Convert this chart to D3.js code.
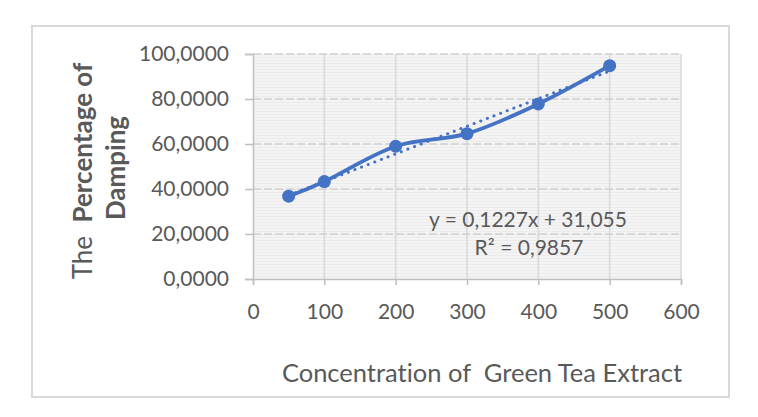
<!DOCTYPE html>
<html>
<head>
<meta charset="utf-8">
<script src="https://cdn.jsdelivr.net/npm/d3@7"></script>
<style>
  body { margin: 0; background: #fff; }
  text { font-family: Lato, "Open Sans", sans-serif; fill: #595959; font-variant-ligatures: none; }
</style>
</head>
<body>
<div id="chart"></div>
<script>
// data
var concentration = [50, 100, 200, 300, 400, 500];
var damping = [36.8, 43.3, 59.0, 64.6, 77.8, 94.8];
var xTicks = [0, 100, 200, 300, 400, 500, 600];
var yTicks = [0, 20, 40, 60, 80, 100];
var slope = 0.1227, intercept = 31.055;
var eqLabel = "y = 0,1227x + 31,055";
var r2Label = "R² = 0,9857";

var width = 758, height = 417;
var blue = "#4472C4";

var svg = d3.select('#chart')
  .append('svg')
  .attr('width', width)
  .attr('height', height)

// outer chart border
svg.append('rect')
  .attr('x', 32).attr('y', 26)
  .attr('width', 697).attr('height', 371)
  .attr('fill', '#fff')
  .attr('stroke', '#d9d9d9')
  .attr('stroke-width', 2)

var x = d3.scaleLinear().domain([0, 600]).range([253, 681]);
var y = d3.scaleLinear().domain([0, 100]).range([279, 54]);

// striped light background pattern
var defs = svg.append('defs');
var pat = defs.append('pattern')
  .attr('id', 'stripes')
  .attr('patternUnits', 'userSpaceOnUse')
  .attr('width', 4).attr('height', 3)
pat.append('rect').attr('width', 4).attr('height', 3).attr('fill', '#f4f4f4')
pat.append('rect').attr('width', 4).attr('height', 1).attr('fill', '#ebebeb')

svg.append('rect')
  .attr('x', x(0)).attr('y', y(100))
  .attr('width', x(600) - x(0)).attr('height', y(0) - y(100))
  .attr('fill', 'url(#stripes)')

// vertical gridlines
svg.append('g').selectAll('line')
  .data(xTicks.slice(1))
  .join('line')
  .attr('x1', d => x(d)).attr('x2', d => x(d))
  .attr('y1', y(100)).attr('y2', y(0))
  .attr('stroke', '#d9d9d9')
  .attr('stroke-width', 1.5)

// horizontal dashed gridlines
svg.append('g').selectAll('line')
  .data(yTicks.slice(1))
  .join('line')
  .attr('x1', x(0)).attr('x2', x(600))
  .attr('y1', d => y(d)).attr('y2', d => y(d))
  .attr('stroke', '#d0d0d0')
  .attr('stroke-width', 1.5)
  .attr('stroke-dasharray', '8,3')

// axes
var xAxis = svg.append('g')
  .attr('transform', 'translate(0,' + y(0) + ')')
  .call(d3.axisBottom(x).tickValues(xTicks).tickSize(6).tickPadding(15))
var yAxis = svg.append('g')
  .attr('transform', 'translate(' + x(0) + ',0)')
  .call(d3.axisLeft(y).tickValues(yTicks).tickSize(8).tickPadding(16)
    .tickFormat(d => d3.format('.4f')(d).replace('.', ',')))

;[xAxis, yAxis].forEach(function (ax) {
  ax.select('.domain').attr('stroke', '#bfbfbf').attr('stroke-width', 1.5)
  ax.selectAll('.tick line').attr('stroke', '#bfbfbf').attr('stroke-width', 1.5)
  ax.selectAll('.tick text')
    .attr('fill', '#595959')
    .style('font-size', '21px')
    .style('font-family', 'Lato, sans-serif')
})
xAxis.selectAll('.tick text').attr('dy', '0.9em')

// trendline (dotted)
svg.append('line')
  .attr('x1', x(50)).attr('y1', y(slope * 50 + intercept))
  .attr('x2', x(500)).attr('y2', y(slope * 500 + intercept))
  .attr('stroke', blue)
  .attr('stroke-width', 3)
  .attr('stroke-linecap', 'round')
  .attr('stroke-dasharray', '0.1,7')

// smoothed data line
var pts = concentration.map((c, i) => [c, damping[i]]);
var line = d3.line()
  .x(d => x(d[0]))
  .y(d => y(d[1]))
  .curve(d3.curveCatmullRom.alpha(0))

svg.append('path')
  .datum(pts)
  .attr('d', line)
  .attr('fill', 'none')
  .attr('stroke', blue)
  .attr('stroke-width', 3.8)
  .attr('stroke-linecap', 'round')

svg.append('g').selectAll('circle')
  .data(pts)
  .join('circle')
  .attr('cx', d => x(d[0]))
  .attr('cy', d => y(d[1]))
  .attr('r', 6.5)
  .attr('fill', blue)

// trendline equation
svg.append('text')
  .attr('x', 528).attr('y', 227)
  .attr('text-anchor', 'middle')
  .style('font-size', '21px')
  .text(eqLabel)
svg.append('text')
  .attr('x', 529).attr('y', 255)
  .attr('text-anchor', 'middle')
  .style('font-size', '21px')
  .text(r2Label)

// axis titles
svg.append('text')
  .attr('x', 482).attr('y', 382)
  .attr('text-anchor', 'middle')
  .style('font-size', '25.5px')
  .text('Concentration of\u00a0 Green Tea Extract')

var yTitle = svg.append('text')
  .attr('transform', 'translate(92,171) rotate(-90)')
  .attr('text-anchor', 'middle')
  .style('font-size', '26px')
yTitle.append('tspan').text('The\u00a0 ')
yTitle.append('tspan').attr('font-weight', 'bold').text('Percentage of')
svg.append('text')
  .attr('transform', 'translate(125,168) rotate(-90)')
  .attr('text-anchor', 'middle')
  .attr('font-weight', 'bold')
  .style('font-size', '26px')
  .text('Damping')
</script>
</body>
</html>
